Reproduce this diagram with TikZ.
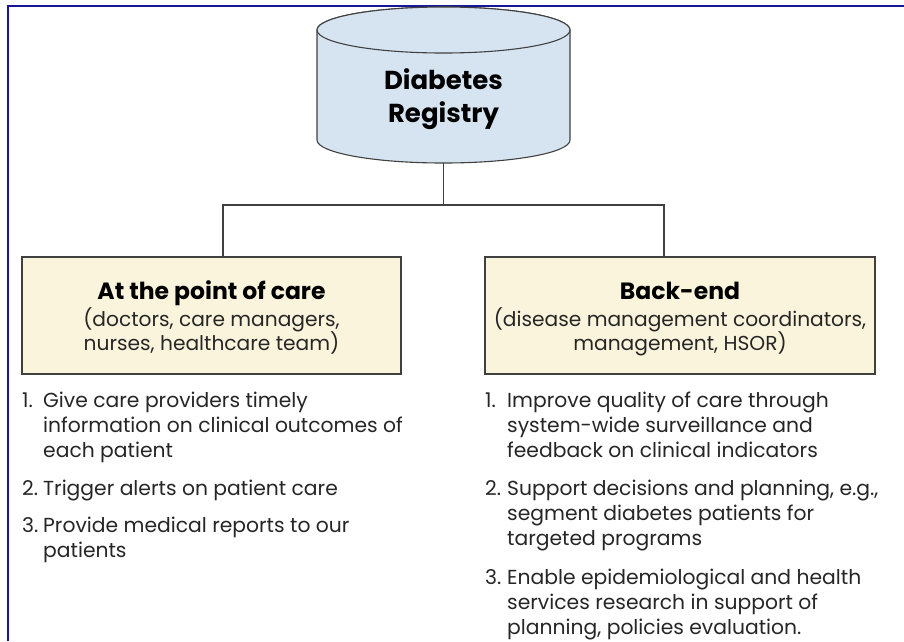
\documentclass[tikz,border=0pt]{standalone}
\usepackage{fontspec}
\setmainfont{Poppins}
\usetikzlibrary{calc}
\definecolor{frameblue}{RGB}{22,22,150}
\definecolor{cylfill}{RGB}{214,228,242}
\definecolor{boxfill}{RGB}{251,244,220}
\definecolor{linegray}{RGB}{64,64,64}
\definecolor{bodytext}{RGB}{38,38,38}
\begin{document}
\begin{tikzpicture}[x=1pt,y=-1pt,
  conn/.style={draw=linegray, line width=1.3pt},
  cyl/.style={draw=linegray, line width=1.1pt, fill=cylfill},
  box/.style={draw=linegray, line width=1.3pt, fill=boxfill, inner sep=0pt},
  cyltext/.style={anchor=base, inner sep=0pt, font=\bfseries\fontsize{26}{30}\selectfont, text=black},
  title/.style={anchor=base, inner sep=0pt, font=\bfseries\fontsize{23.5}{26}\selectfont, text=black},
  sub/.style={anchor=base, inner sep=0pt, font=\fontsize{20.2}{22}\selectfont, text=bodytext},
  body/.style={anchor=base west, inner sep=0pt, font=\fontsize{20.3}{22}\selectfont, text=bodytext}]
\useasboundingbox (0,0) rectangle (904,641);
\fill[white] (0,0) rectangle (904,641);
% frame
\draw[draw=frameblue, line width=2.8pt] (8,641) -- (8,6) -- (904,6);
% cylinder
\path[cyl] (317,30) -- (317,140) arc[start angle=180, end angle=360, x radius=126.5pt, y radius=23pt] -- (570,30) arc[start angle=0, end angle=180, x radius=126.5pt, y radius=23pt] -- cycle;
\draw[cyl] (443.5,30) ellipse[x radius=126.5pt, y radius=23pt];
\coordinate (cylb) at (443.5,163);
\node[cyltext] (reg1) at (443.5,89) {Diabetes};
\node[cyltext] (reg2) at (443.5,122) {Registry};
% boxes
\node[box, minimum width=379pt, minimum height=117pt] (lbox) at (211.5,315.5) {};
\node[box, minimum width=390pt, minimum height=117pt] (rbox) at (680,315.5) {};
% connectors
\coordinate (j) at (443.5,205);
\draw[conn] (cylb) -- (j);
\draw[conn] (j) -| ([xshift=11.5pt]lbox.north);
\draw[conn] (j) -| ([xshift=-16pt]rbox.north);
% box texts
\node[title] (lt) at (211.5,299) {At the point of care};
\node[sub] (ls1) at (211.5,326) {(doctors, care managers,};
\node[sub] (ls2) at (211.5,350) {nurses, healthcare team)};
\node[title] (rt) at (680,299) {Back-end};
\node[sub] (rs1) at (680,326) {(disease management coordinators,};
\node[sub] (rs2) at (680,350) {management, HSOR)};
% left list
\node[body] (l1n) at (22,407) {1.};
\node[body] (l1a) at (43,407) {Give care providers timely};
\node[body] (l1b) at (43,432) {information on clinical outcomes of};
\node[body] (l1c) at (43,457) {each patient};
\node[body] (l2n) at (22,495) {2.};
\node[body] (l2a) at (43,495) {Trigger alerts on patient care};
\node[body] (l3n) at (22,532) {3.};
\node[body] (l3a) at (43,532) {Provide medical reports to our};
\node[body] (l3b) at (43,557) {patients};
% right list
\node[body] (r1n) at (485,407) {1.};
\node[body] (r1a) at (507,407) {Improve quality of care through};
\node[body] (r1b) at (507,432) {system-wide surveillance and};
\node[body] (r1c) at (507,457) {feedback on clinical indicators};
\node[body] (r2n) at (485,495) {2.};
\node[body] (r2a) at (507,495) {Support decisions and planning, e.g.,};
\node[body] (r2b) at (507,520) {segment diabetes patients for};
\node[body] (r2c) at (507,545) {targeted programs};
\node[body] (r3n) at (485,584) {3.};
\node[body] (r3a) at (507,584) {Enable epidemiological and health};
\node[body] (r3b) at (507,609) {services research in support of};
\node[body] (r3c) at (507,634) {planning, policies evaluation.};
\end{tikzpicture}
\end{document}
